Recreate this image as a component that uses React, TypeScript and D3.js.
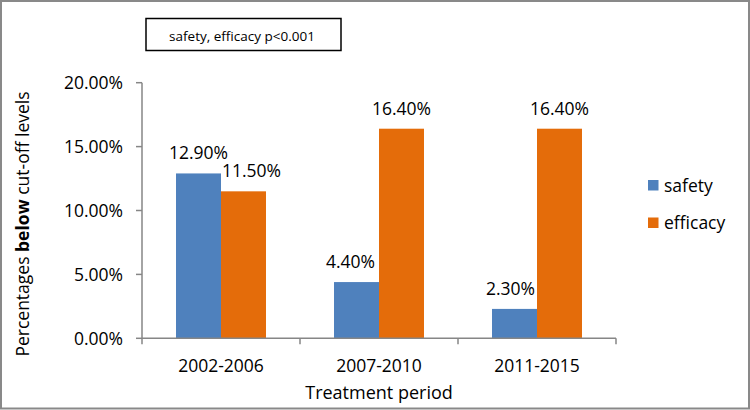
import React from "react";
import * as d3 from "d3";

const categories = ["2002-2006", "2007-2010", "2011-2015"];
const seriesNames = ["safety", "efficacy"];
const safetyValues = [0.129, 0.044, 0.023];
const efficacyValues = [0.115, 0.164, 0.164];
const yTicks = [0, 0.05, 0.1, 0.15, 0.2];
const annotation = "safety, efficacy p<0.001";

const COLORS: Record<string, string> = { safety: "#4F81BD", efficacy: "#E46C0A" };
// small horizontal nudges for data labels (layout only)
const labelNudge: Record<string, number[]> = { safety: [0, -6, -4], efficacy: [8, 0, 0] };

const W = 750;
const H = 410;
const FONT = "'Open Sans', 'Noto Sans', sans-serif";
const AXIS = "#868686";

export default function App() {
  const x0 = d3.scaleBand<string>().domain(categories).range([142, 616]).paddingInner(0).paddingOuter(0);
  const x1 = d3.scaleBand<string>().domain(seriesNames).range([0, x0.bandwidth()]).paddingInner(0).paddingOuter(0.756);
  const y = d3.scaleLinear().domain([0, 0.2]).range([338.3, 82.7]);
  const fmt = d3.format(".2%");
  const values: Record<string, number[]> = { safety: safetyValues, efficacy: efficacyValues };
  const base = y(0);
  const tickEdges = [...categories.map((c) => x0(c)!), x0.range()[1]];

  return (
    <svg width={W} height={H} style={{ position: "absolute", left: 0, top: 0 }} fontFamily={FONT}>
      <rect x={0} y={0} width={W} height={H} fill="#fff" />
      <rect x={1} y={1} width={W - 2} height={H - 2.5} fill="none" stroke="#898989" strokeWidth={2} />

      {/* annotation box */}
      <rect x={146} y={18.5} width={195} height={32} fill="#fff" stroke="#000" strokeWidth={1.5} />
      <text x={242} y={40.5} textAnchor="middle" fontSize={13.5} fill="#000">{annotation}</text>

      {/* y ticks */}
      {yTicks.map((t) => (
        <g key={t}>
          <line x1={136} x2={142} y1={y(t)} y2={y(t)} stroke={AXIS} strokeWidth={1.5} />
          <text x={123} y={y(t) + 6.3} textAnchor="end" fontSize={17.5} fill="#000">{fmt(t)}</text>
        </g>
      ))}

      {/* bars */}
      {categories.map((c, i) => (
        <g key={c} transform={`translate(${x0(c)},0)`}>
          {seriesNames.map((s) => {
            const v = values[s][i];
            const bx = x1(s)!;
            return (
              <g key={s}>
                <rect x={bx} y={y(v)} width={x1.bandwidth()} height={base - y(v)} fill={COLORS[s]} />
                <text x={bx + x1.bandwidth() / 2 + labelNudge[s][i]} y={y(v) - 14} textAnchor="middle" fontSize={17.5} fill="#000">
                  {fmt(v)}
                </text>
              </g>
            );
          })}
        </g>
      ))}

      {/* axes lines */}
      <line x1={142} x2={142} y1={y(0.2)} y2={base} stroke={AXIS} strokeWidth={1.5} />
      <line x1={142} x2={616} y1={base} y2={base} stroke={AXIS} strokeWidth={1.5} />
      {tickEdges.map((e, i) => (
        <line key={i} x1={e} x2={e} y1={base} y2={base + 6} stroke={AXIS} strokeWidth={1.5} />
      ))}

      {/* category labels */}
      {categories.map((c) => (
        <text key={c} x={x0(c)! + x0.bandwidth() / 2} y={372} textAnchor="middle" fontSize={17.5} fill="#000">{c}</text>
      ))}

      {/* axis titles */}
      <text x={379} y={399} textAnchor="middle" fontSize={18} fill="#000">Treatment period</text>
      <text transform="translate(29,224) rotate(-90)" textAnchor="middle" fontSize={17.5} fill="#000">
        Percentages <tspan fontWeight="bold">below</tspan> cut-off levels
      </text>

      {/* legend */}
      {seriesNames.map((s, i) => (
        <g key={s} transform={`translate(648,${180 + i * 37.5})`}>
          <rect x={0} y={0} width={10.5} height={10.5} fill={COLORS[s]} />
          <text x={16} y={11.5} fontSize={17.5} fill="#000">{s}</text>
        </g>
      ))}
    </svg>
  );
}
